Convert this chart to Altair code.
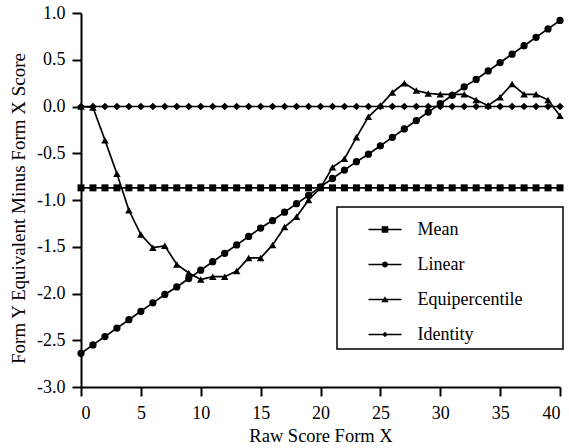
import altair as alt
import pandas as pd

# Raw score points on Form X
raw_score = list(range(41))

series_names = ["Mean", "Linear", "Equipercentile", "Identity"]

# Form Y equivalent minus Form X score, per equating method
mean_diff = [-0.87] * 41
linear_diff = [
    -2.64, -2.55, -2.46, -2.37, -2.28, -2.19, -2.10, -2.01, -1.93, -1.84,
    -1.75, -1.66, -1.57, -1.48, -1.39, -1.30, -1.22, -1.13, -1.04, -0.95,
    -0.86, -0.77, -0.68, -0.59, -0.51, -0.42, -0.33, -0.24, -0.15, -0.06,
    0.03, 0.12, 0.21, 0.29, 0.38, 0.47, 0.56, 0.65, 0.74, 0.83,
    0.92,
]
equi_diff = [
    0.00, -0.01, -0.36, -0.72, -1.11, -1.37, -1.51, -1.49, -1.69, -1.78,
    -1.85, -1.82, -1.82, -1.76, -1.62, -1.62, -1.48, -1.29, -1.18, -1.00,
    -0.87, -0.65, -0.56, -0.33, -0.11, 0.01, 0.15, 0.25, 0.17, 0.14,
    0.13, 0.13, 0.13, 0.07, 0.01, 0.10, 0.24, 0.13, 0.13, 0.07,
    -0.10,
]
identity_diff = [0.0] * 41

rows = []
for name, vals in zip(series_names, [mean_diff, linear_diff, equi_diff, identity_diff]):
    for x, v in zip(raw_score, vals):
        rows.append({"score": x, "diff": v, "method": name})
df = pd.DataFrame(rows)

FONT = "Liberation Serif, Times New Roman, serif"

x_enc = alt.X(
    "score:Q",
    scale=alt.Scale(domain=[0, 40], nice=False),
    axis=alt.Axis(values=[0, 5, 10, 15, 20, 25, 30, 35, 40], format="d",
                  title="Raw Score Form X", titlePadding=4, labelPadding=8,
                  titleFontSize=18.5),
)
y_enc = alt.Y(
    "diff:Q",
    scale=alt.Scale(domain=[-3, 1], nice=False),
    axis=alt.Axis(
        values=[-3, -2.5, -2, -1.5, -1, -0.5, 0, 0.5, 1],
        labelExpr="(datum.value < 0 ? '-' : '') + format(abs(datum.value), '.1f')",
        title="Form Y Equivalent Minus Form X Score",
        titlePadding=8,
        labelPadding=7,
        titleFontSize=19,
        titleY=195,
    ),
)

lines = alt.Chart(df).mark_line(color="black", strokeWidth=1.7).encode(
    x=x_enc, y=y_enc, detail="method:N"
)

# Plot markers: square, circle, triangle, diamond
marker_shapes = ["square", "circle", "triangle-up", "diamond"]
points = alt.Chart(df).mark_point(filled=True, color="black", opacity=1).encode(
    x="score:Q",
    y="diff:Q",
    shape=alt.Shape("method:N", scale=alt.Scale(domain=series_names, range=marker_shapes), legend=None),
    size=alt.Size("method:N", scale=alt.Scale(domain=series_names, range=[49, 60, 60, 50]), legend=None),
)

# Legend glyphs: a thin filled bar (the line) with the method's marker in the middle
line_part = "M-1,-0.045L1,-0.045L1,0.045L-1,0.045Z"
legend_shapes = [
    line_part + "M-0.2,-0.2L0.2,-0.2L0.2,0.2L-0.2,0.2Z M10.3,0",
    line_part + "M-0.18,0A0.18,0.18 0 1 1 0.18,0A0.18,0.18 0 1 1 -0.18,0Z M10.3,0",
    line_part + "M0,-0.2L0.22,0.16L-0.22,0.16Z M10.3,0",
    line_part + "M0,-0.17L0.17,0L0,0.17L-0.17,0Z M10.3,0",
]
legend_layer = (
    alt.Chart(df)
    .transform_filter("datum.score < 0")
    .mark_point(filled=True, color="black", opacity=1)
    .encode(
        x="score:Q",
        y="diff:Q",
        shape=alt.Shape(
            "method:N",
            scale=alt.Scale(domain=series_names, range=legend_shapes),
            legend=alt.Legend(
                title=None,
                orient="none",
                legendX=256,
                legendY=194,
                symbolSize=1089,
                symbolOffset=25.5,
                labelOffset=15,
                padding=5,
                rowPadding=8,
                strokeColor="black",
                labelFont=FONT,
                labelFontSize=18,
                labelColor="black",
                symbolFillColor="black",
                symbolOpacity=1,
            ),
        ),
    )
)

chart = (
    alt.layer(lines, points, legend_layer)
    .resolve_scale(shape="independent", size="independent")
    .properties(
        width=479,
        height=374,
        autosize=alt.AutoSizeParams(type="none"),
        padding={"left": 81, "top": 13, "right": 9, "bottom": 61},
    )
    .configure_view(stroke=None)
    .configure_axis(
        grid=False,
        domainColor="black",
        domainWidth=2,
        tickColor="black",
        tickWidth=2,
        tickSize=9,
        labelFont=FONT,
        labelFontSize=18,
        labelColor="black",
        titleFont=FONT,
        titleFontWeight="normal",
        titleColor="black",
    )
    .configure_axisY(labelAlign="right")
    .configure_legend(strokeWidth=1.5)
)

chart.save("out.html", embed_options={"renderer": "svg", "actions": False})
